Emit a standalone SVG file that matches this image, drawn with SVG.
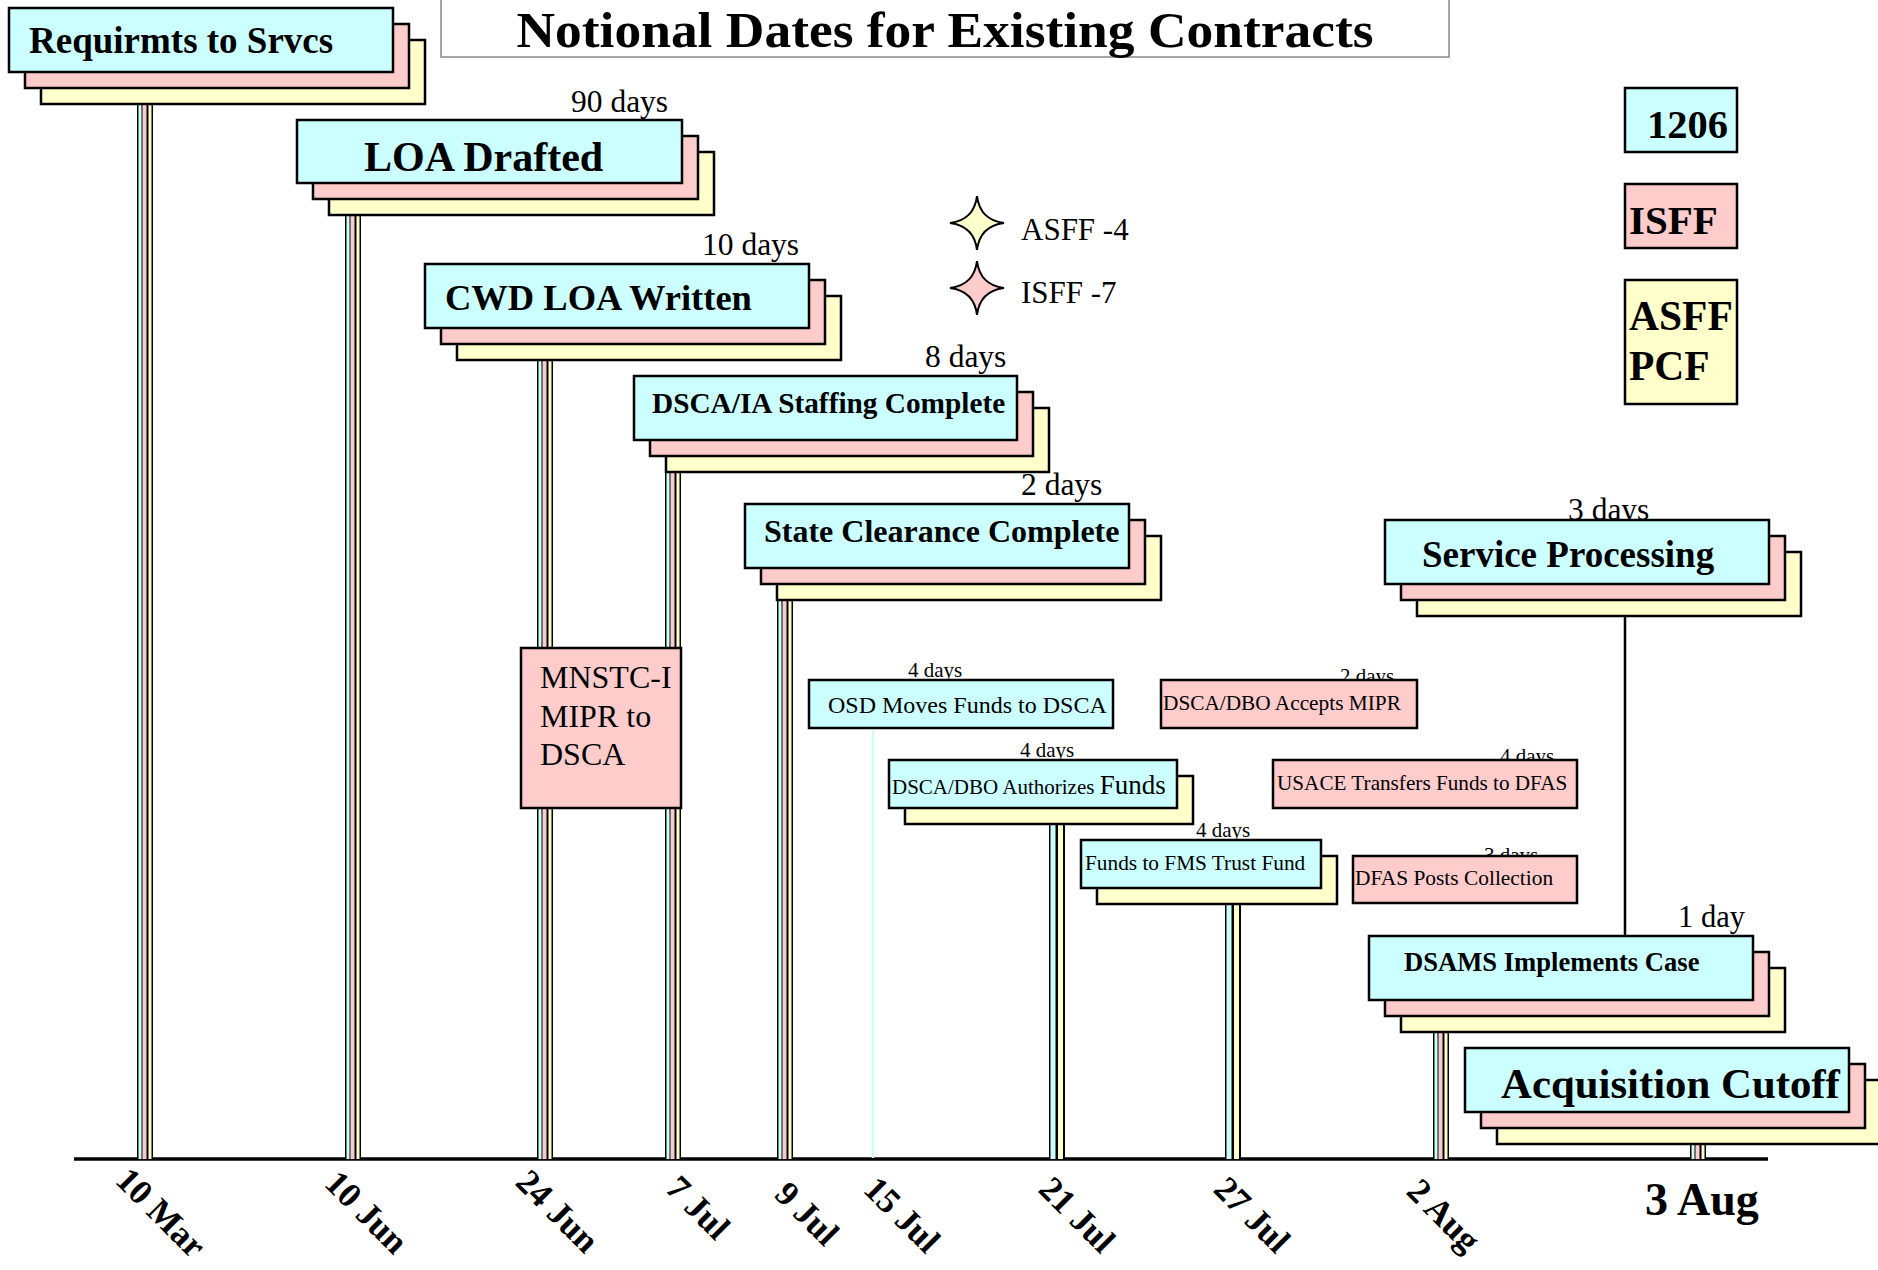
<svg xmlns="http://www.w3.org/2000/svg" xmlns:xlink="http://www.w3.org/1999/xlink" width="1878" height="1270" viewBox="0 0 1878 1270">
<style>
.c{fill:#CCFFFF}.p{fill:#FFCCCC}.y{fill:#FFFFCC}.k{fill:#000}
.bx{stroke:#000;stroke-width:2.5}
.b{font-family:"Liberation Serif","Times New Roman",serif;font-weight:bold;fill:#000}
.r{font-family:"Liberation Serif","Times New Roman",serif;fill:#000}
.d{font-size:31.5px}
.s{font-size:21px}
.dt{font-family:"Liberation Serif","Times New Roman",serif;font-weight:bold;font-size:35px}
</style>
<defs>
<path id="star" d="M0,-27 Q3,-3 27,0 Q3,3 0,27 Q-3,3 -27,0 Q-3,-3 0,-27 Z" stroke="#000" stroke-width="2"/>
</defs>
<rect width="1878" height="1270" fill="#fff"/>

<g id="title">
<rect x="441" y="-3" width="1008" height="60" fill="#fff" stroke="#888" stroke-width="1.5"/>
<text class="b" x="945" y="47" font-size="50" text-anchor="middle" textLength="857" lengthAdjust="spacingAndGlyphs">Notional Dates for Existing Contracts</text>
</g>

<g id="connectors">
<line x1="74" y1="1159" x2="1768" y2="1159" stroke="#000" stroke-width="3.5"/>
<g>
<rect class="k" x="137" y="104" width="16" height="1055"/><rect class="c" x="138.5" y="104" width="3" height="1055"/><rect class="p" x="142.5" y="104" width="4" height="1055"/><rect class="y" x="148.5" y="104" width="3" height="1055"/>
<rect class="k" x="345" y="216" width="16" height="943"/><rect class="c" x="346.5" y="216" width="3" height="943"/><rect class="p" x="350.5" y="216" width="4" height="943"/><rect class="y" x="356.5" y="216" width="3" height="943"/>
<rect class="k" x="537" y="360" width="16" height="799"/><rect class="c" x="538.5" y="360" width="3" height="799"/><rect class="p" x="542.5" y="360" width="4" height="799"/><rect class="y" x="548.5" y="360" width="3" height="799"/>
<rect class="k" x="665" y="472" width="16" height="687"/><rect class="c" x="666.5" y="472" width="3" height="687"/><rect class="p" x="670.5" y="472" width="4" height="687"/><rect class="y" x="676.5" y="472" width="3" height="687"/>
<rect class="k" x="777" y="600" width="16" height="559"/><rect class="c" x="778.5" y="600" width="3" height="559"/><rect class="p" x="782.5" y="600" width="4" height="559"/><rect class="y" x="788.5" y="600" width="3" height="559"/>
<rect class="k" x="1433" y="1032" width="16" height="127"/><rect class="c" x="1434.5" y="1032" width="3" height="127"/><rect class="p" x="1438.5" y="1032" width="4" height="127"/><rect class="y" x="1444.5" y="1032" width="3" height="127"/>
<rect class="k" x="1690" y="1144" width="16" height="15"/><rect class="c" x="1691.5" y="1144" width="3" height="15"/><rect class="p" x="1695.5" y="1144" width="4" height="15"/><rect class="y" x="1701.5" y="1144" width="3" height="15"/>
</g>
<g>
<rect class="k" x="1049" y="824" width="16" height="335"/><rect class="c" x="1050.5" y="824" width="5" height="335"/><rect class="y" x="1058" y="824" width="5" height="335"/>
<rect class="k" x="1225" y="904" width="16" height="255"/><rect class="c" x="1226.5" y="904" width="5" height="255"/><rect class="y" x="1234" y="904" width="5" height="255"/>
</g>
<line x1="873" y1="728" x2="873" y2="1158" stroke="#CCFFFF" stroke-width="2.5"/>
<line x1="1625" y1="616" x2="1625" y2="936" stroke="#000" stroke-width="2.5"/>
</g>

<g id="n-requirmts">
<rect class="y bx" x="41" y="40" width="384" height="64"/>
<rect class="p bx" x="25" y="24" width="384" height="64"/>
<rect class="c bx" x="9" y="8" width="384" height="64"/>
<text class="b" x="29" y="53" font-size="37">Requirmts to Srvcs</text>
</g>

<g id="n-loa">
<text class="r d" x="571" y="112">90 days</text>
<rect class="y bx" x="329" y="152" width="385" height="63"/>
<rect class="p bx" x="313" y="136" width="385" height="63"/>
<rect class="c bx" x="297" y="120" width="385" height="63"/>
<text class="b" x="364" y="171" font-size="42">LOA Drafted</text>
</g>

<g id="n-cwd">
<text class="r d" x="702" y="255">10 days</text>
<rect class="y bx" x="457" y="296" width="384" height="64"/>
<rect class="p bx" x="441" y="280" width="384" height="64"/>
<rect class="c bx" x="425" y="264" width="384" height="64"/>
<text class="b" x="445" y="310" font-size="36.5">CWD LOA Written</text>
</g>

<g id="n-dsca-ia">
<text class="r d" x="925" y="367">8 days</text>
<rect class="y bx" x="666" y="408" width="383" height="64"/>
<rect class="p bx" x="650" y="392" width="383" height="64"/>
<rect class="c bx" x="634" y="376" width="383" height="64"/>
<text class="b" x="652" y="413" font-size="29.3">DSCA/IA Staffing Complete</text>
</g>

<g id="n-state">
<text class="r d" x="1021" y="495">2 days</text>
<rect class="y bx" x="777" y="536" width="384" height="64"/>
<rect class="p bx" x="761" y="520" width="384" height="64"/>
<rect class="c bx" x="745" y="504" width="384" height="64"/>
<text class="b" x="764" y="542" font-size="32">State Clearance Complete</text>
</g>

<g id="n-service">
<text class="r d" x="1568" y="520">3 days</text>
<rect class="y bx" x="1417" y="552" width="384" height="64"/>
<rect class="p bx" x="1401" y="536" width="384" height="64"/>
<rect class="c bx" x="1385" y="520" width="384" height="64"/>
<text class="b" x="1422" y="567" font-size="37">Service Processing</text>
</g>

<g id="n-mnstc">
<rect class="p bx" x="521" y="648" width="160" height="160"/>
<text class="r" font-size="32"><tspan x="540" y="688">MNSTC-I</tspan><tspan x="540" y="727">MIPR to</tspan><tspan x="540" y="765">DSCA</tspan></text>
</g>

<g id="n-osd">
<text class="r s" x="908" y="677">4 days</text>
<rect class="c bx" x="809" y="680" width="304" height="48"/>
<text class="r" x="828" y="713" font-size="24">OSD Moves Funds to DSCA</text>
</g>

<g id="n-accepts">
<text class="r s" x="1340" y="683">2 days</text>
<rect class="p bx" x="1161" y="680" width="256" height="48"/>
<text class="r" x="1163" y="710" font-size="21.3">DSCA/DBO Accepts MIPR</text>
</g>

<g id="n-authorizes">
<text class="r s" x="1020" y="757">4 days</text>
<rect class="y bx" x="905" y="776" width="288" height="48"/>
<rect class="c bx" x="889" y="760" width="288" height="48"/>
<text class="r" x="892" y="794"><tspan font-size="21">DSCA/DBO Authorizes </tspan><tspan font-size="27">Funds</tspan></text>
</g>

<g id="n-usace">
<text class="r s" x="1500" y="763">4 days</text>
<rect class="p bx" x="1273" y="760" width="304" height="48"/>
<text class="r" x="1277" y="790" font-size="21.2">USACE Transfers Funds to DFAS</text>
</g>

<g id="n-fms">
<text class="r s" x="1196" y="837">4 days</text>
<rect class="y bx" x="1097" y="856" width="240" height="48"/>
<rect class="c bx" x="1081" y="840" width="240" height="48"/>
<text class="r" x="1085" y="870" font-size="21.3">Funds to FMS Trust Fund</text>
</g>

<g id="n-dfas">
<text class="r s" x="1484" y="862">3 days</text>
<rect class="p bx" x="1353" y="856" width="224" height="47"/>
<text class="r" x="1355" y="885" font-size="21.4">DFAS Posts Collection</text>
</g>

<g id="n-dsams">
<text class="r" x="1678" y="927" font-size="30.5">1 day</text>
<rect class="y bx" x="1401" y="968" width="384" height="64"/>
<rect class="p bx" x="1385" y="952" width="384" height="64"/>
<rect class="c bx" x="1369" y="936" width="384" height="64"/>
<text class="b" x="1404" y="971" font-size="26.6">DSAMS Implements Case</text>
</g>

<g id="n-acq">
<rect class="y bx" x="1497" y="1080" width="384" height="64"/>
<rect class="p bx" x="1481" y="1064" width="384" height="64"/>
<rect class="c bx" x="1465" y="1048" width="384" height="64"/>
<text class="b" x="1501" y="1098" font-size="42.8">Acquisition Cutoff</text>
</g>

<g id="legend">
<rect class="c bx" x="1625" y="88" width="112" height="64"/>
<text class="b" x="1647" y="138" font-size="40.5">1206</text>
<rect class="p bx" x="1625" y="184" width="112" height="64"/>
<text class="b" x="1629" y="234" font-size="41">ISFF</text>
<rect class="y bx" x="1625" y="280" width="112" height="124"/>
<text class="b" font-size="41.5"><tspan x="1629" y="330">ASFF</tspan><tspan x="1629" y="380">PCF</tspan></text>
</g>

<g id="stars">
<use xlink:href="#star" href="#star" x="977" y="223" fill="#FFFFCC"/>
<text class="r" x="1021" y="240" font-size="31">ASFF -4</text>
<use xlink:href="#star" href="#star" x="977" y="288" fill="#FFCCCC"/>
<text class="r" x="1021" y="303" font-size="31">ISFF -7</text>
</g>

<g id="dates">
<text class="dt" transform="translate(114,1182) rotate(45)">10 Mar</text>
<text class="dt" transform="translate(323,1185) rotate(45)">10 Jun</text>
<text class="dt" transform="translate(514,1184) rotate(45)">24 Jun</text>
<text class="dt" transform="translate(664,1190) rotate(45)">7 Jul</text>
<text class="dt" transform="translate(773,1196) rotate(45)">9 Jul</text>
<text class="dt" transform="translate(862,1191) rotate(45)">15 Jul</text>
<text class="dt" transform="translate(1037,1191) rotate(45)">21 Jul</text>
<text class="dt" transform="translate(1212,1191) rotate(45)">27 Jul</text>
<text class="dt" transform="translate(1405,1193) rotate(45)">2 Aug</text>
<text class="b" x="1645" y="1215" font-size="46">3 Aug</text>
</g>
</svg>
